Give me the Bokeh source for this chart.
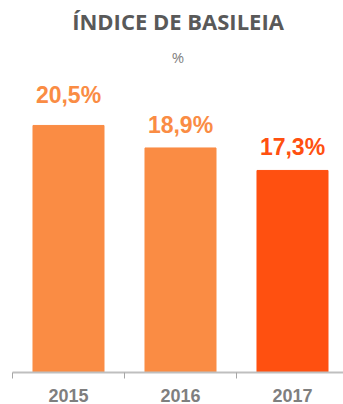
import numpy as np
from bokeh.plotting import figure
from bokeh.models import Range1d, FixedTicker, Title, ColumnDataSource
from bokeh.core.properties import value
from bokeh.embed import file_html
from bokeh.resources import INLINE

years = ["2015", "2016", "2017"]
basel = [20.5, 18.9, 17.3]
value_labels = ["20,5%", "18,9%", "17,3%"]

bar_colors = ["#FA8C44", "#FA8C44", "#FF5010"]
label_offsets = [-30, -23, -23]

xs = np.arange(len(years)) + 0.5
src = ColumnDataSource(dict(x=xs, top=basel, lab=value_labels, color=bar_colors, off=label_offsets))

p = figure(frame_width=331, frame_height=300, output_backend="svg", toolbar_location=None,
           x_range=Range1d(0, 331 / 112), y_range=Range1d(2.93, 2.93 + 300 / 14.06),
           min_border_left=12, min_border_right=0, min_border_top=72, min_border_bottom=0)
p.outline_line_color = None
p.grid.visible = False
p.yaxis.visible = False
p.background_fill_color = "white"
p.border_fill_color = "white"

sub = Title(text="%", text_font="Open Sans", text_font_size="15px", offset=5, standoff=11,
            text_color="#7F7F7F", text_font_style="normal", align="center")
ttl = Title(text="ÍNDICE DE BASILEIA", text_font="Open Sans", text_font_size="22px", offset=4,
            standoff=7, text_color="#595959", text_font_style="bold", align="center")
p.add_layout(sub, "above")
p.add_layout(ttl, "above")

p.vbar(x="x", top="top", bottom=0, width=0.634, color="color", source=src)
p.text(x="x", y="top", text="lab", y_offset="off", text_align="center", text_baseline="alphabetic",
       text_font=value("Liberation Sans"), text_font_style="bold", text_font_size="23px",
       text_color="color", source=src)

ax = p.xaxis[0]
ax.ticker = FixedTicker(ticks=list(xs), minor_ticks=list(range(len(years) + 1)))
ax.major_label_overrides = {float(x): y for x, y in zip(xs, years)}
ax.major_tick_line_color = None
ax.major_tick_out = 0
ax.major_tick_in = 0
ax.minor_tick_out = 6
ax.minor_tick_in = 0
ax.minor_tick_line_color = "#A6A6A6"
ax.axis_line_color = "#BFBFBF"
ax.axis_line_width = 2
ax.major_label_standoff = 10
ax.major_label_text_line_height = 1.0
ax.major_label_text_font = "Liberation Sans"
ax.major_label_text_font_style = "bold"
ax.major_label_text_font_size = "18px"
ax.major_label_text_color = "#7F7F7F"

open("out.html", "w").write(file_html(p, INLINE))
